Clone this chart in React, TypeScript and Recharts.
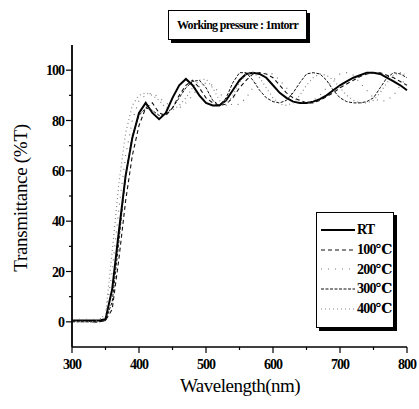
import React from 'react';
import { LineChart, Line, XAxis, YAxis, Legend } from 'recharts';

const wavelengths = [
  300, 310, 320, 330, 340, 350, 360, 370, 380, 390, 400, 410, 420, 430, 440, 450, 460, 470, 480, 490, 500,
  510, 520, 530, 540, 550, 560, 570, 580, 590, 600, 610, 620, 630, 640, 650, 660, 670, 680, 690, 700,
  710, 720, 730, 740, 750, 760, 770, 780, 790, 800,
];

const rt = [
  0.5, 0.5, 0.5, 0.5, 0.5, 1, 13, 36, 58, 73, 83, 87, 83, 80.5, 83, 89, 94, 96.5, 94, 90, 87,
  86, 86, 88, 92, 96, 98.5, 99, 98.5, 97, 94, 91, 89, 87.5, 87, 87, 87.5, 88.5, 90, 92, 94,
  95.5, 97, 98, 99, 99, 98.5, 97, 95.5, 94, 92,
];
const t100 = [
  0.5, 0.5, 0.5, 0, 0, 0.5, 5, 25, 48, 66, 78, 85, 87, 83, 82, 85, 90, 94, 96, 93, 89,
  87, 86, 86.5, 89, 93, 96, 98.5, 99, 98.5, 97, 94, 91, 89, 88, 87, 87, 88, 89.5, 91, 93,
  94.5, 96, 97.5, 98.5, 99, 99, 98, 97, 95.5, 94,
];
const t200 = [
  1, 1, 1, 1, 1, 2, 20, 45, 66, 80, 88, 90, 91, 89, 87, 85.5, 85, 87, 90, 93.5, 95,
  94, 91, 88, 86, 86.5, 89, 93, 97, 99, 98.5, 96, 93, 90, 87.5, 87, 88, 90, 93, 96, 98.5,
  99, 98, 95, 92, 89, 87.5, 88, 90, 94, 97,
];
const t300 = [
  0, 0, 0, 0, 0, 0.5, 8, 32, 58, 74, 82, 85, 84, 82, 82.5, 85, 89, 93, 95.5, 96, 93,
  88, 86, 89, 95, 99, 99, 96, 92, 89, 87.5, 87, 88, 91, 95, 98.5, 99, 98.5, 96, 92, 89,
  87.5, 87, 87, 87.5, 89, 93, 97, 99, 98.5, 97,
];
const t400 = [
  0.5, 0, 0, 0, 0.5, 3, 28, 55, 75, 86, 90, 91, 90, 88, 85, 84, 86, 89, 93, 96, 96.5,
  93, 88, 86, 90, 95, 98.5, 99, 97, 93, 89, 86.5, 86, 87, 90, 94, 97, 98.5, 98, 96, 93,
  90, 88, 87, 87, 88, 91, 95, 98, 99, 98,
];

const seriesNames = ['RT', '100\u2103', '200\u2103', '300\u2103', '400\u2103'];
const seriesValues = [rt, t100, t200, t300, t400];

const xTicks = [300, 350, 400, 450, 500, 550, 600, 650, 700, 750, 800];
const yTicks = [0, 10, 20, 30, 40, 50, 60, 70, 80, 90, 100];

const styles = [
  { stroke: '#000', width: 2, dash: undefined },
  { stroke: '#111', width: 1.1, dash: '4 3' },
  { stroke: '#777', width: 1.2, dash: '1 6' },
  { stroke: '#111', width: 1, dash: '3 1.5' },
  { stroke: '#888', width: 1.2, dash: '1 3' },
];

const data = wavelengths.map((w, i) => {
  const row: Record<string, number> = { w };
  seriesNames.forEach((n, k) => (row[n] = seriesValues[k][i]));
  return row;
});

const font = '"Liberation Serif", "DejaVu Serif", serif';

const XTick = (props: any) => {
  const { x, y, payload } = props;
  const major = payload.value % 100 === 0;
  return (
    <g>
      <line x1={x} x2={x} y1={y} y2={y + (major ? 6 : 3)} stroke="#000" strokeWidth={1.2} />
      {major && (
        <text x={x} y={y + 22} textAnchor="middle" fontFamily={font} fontSize={14} fontWeight="bold" letterSpacing={-1} fill="#000">
          {payload.value}
        </text>
      )}
    </g>
  );
};

const YTick = (props: any) => {
  const { x, y, payload } = props;
  const major = payload.value % 20 === 0;
  return (
    <g>
      <line x1={x} x2={x - (major ? 6 : 3)} y1={y} y2={y} stroke="#000" strokeWidth={1.2} />
      {major && (
        <text x={x - 8} y={y + 5} textAnchor="end" fontFamily={font} fontSize={14} fontWeight="bold" letterSpacing={-1} fill="#000">
          {payload.value}
        </text>
      )}
    </g>
  );
};

const LegendBox = () => (
  <div
    style={{
      width: 78,
      height: 116,
      border: '1px solid #000',
      boxShadow: '3px 3px 0 #000',
      background: '#fff',
      fontFamily: font,
      fontSize: 14,
      paddingTop: 7,
      boxSizing: 'border-box',
      color: '#000',
    }}
  >
    {seriesNames.map((n, k) => (
      <div key={n} style={{ display: 'flex', alignItems: 'center', height: 19.7 }}>
        <svg width={36} height={10} style={{ marginLeft: 4 }}>
          <line x1={0} x2={34} y1={5} y2={5} stroke={styles[k].stroke} strokeWidth={styles[k].width} strokeDasharray={styles[k].dash} />
        </svg>
        <span style={{ letterSpacing: -0.8, fontWeight: 'bold' }}>{n}</span>
      </div>
    ))}
  </div>
);

export default function App() {
  return (
    <div style={{ position: 'absolute', left: 0, top: 0, width: 419, height: 409, background: '#fff' }}>
      <div
        style={{
          position: 'absolute',
          left: 168,
          top: 10,
          width: 139,
          height: 30,
          border: '1px solid #000',
          boxShadow: '3px 3px 0 #000',
          boxSizing: 'border-box',
          background: '#fff',
          color: '#000',
          fontFamily: font,
          fontSize: 12,
          fontWeight: 'bold',
          letterSpacing: -0.7,
          lineHeight: '28px',
          textAlign: 'center',
          zIndex: 2,
        }}
      >
        Working pressure : 1mtorr
      </div>
      <LineChart width={419} height={409} data={data} margin={{ top: 45, right: 12, left: 22, bottom: 32 }}>
        <XAxis
          dataKey="w"
          type="number"
          domain={[300, 800]}
          ticks={xTicks}
          tickSize={0}
          tickMargin={0}
          tickLine={false}
          tick={<XTick />}
          axisLine={{ stroke: '#000', strokeWidth: 1.5 }}
          height={30}
          interval={0}
          label={{
            content: () => (
              <text x={240} y={392} textAnchor="middle" fontFamily={font} fontSize={19} letterSpacing={-0.5} fill="#000" style={{ fill: '#000' }}>
                Wavelength(nm)
              </text>
            ),
          }}
        />
        <XAxis
          xAxisId="t"
          orientation="top"
          dataKey="w"
          type="number"
          domain={[300, 800]}
          tick={false}
          tickLine={false}
          height={0}
          axisLine={{ stroke: '#000', strokeWidth: 1.2 }}
        />
        <YAxis
          type="number"
          domain={[-10, 110]}
          ticks={yTicks}
          tickSize={0}
          tickMargin={0}
          tickLine={false}
          tick={<YTick />}
          width={50}
          interval={0}
          axisLine={{ stroke: '#000', strokeWidth: 1.8 }}
          label={{
            content: () => (
              <text x={27} y={198} transform="rotate(-90 27 198)" textAnchor="middle" fontFamily={font} fontSize={19} letterSpacing={-0.3} fill="#000" style={{ fill: '#000' }}>
                Transmittance (%T)
              </text>
            ),
          }}
        />
        <YAxis
          yAxisId="r"
          orientation="right"
          type="number"
          domain={[-10, 110]}
          tick={false}
          tickLine={false}
          width={0}
          axisLine={{ stroke: '#000', strokeWidth: 2.2 }}
        />
        <Legend
          layout="vertical"
          align="center"
          verticalAlign="middle"
          wrapperStyle={{ left: 316, top: 212, width: 80 }}
          content={<LegendBox />}
        />
        {seriesNames.map((n, k) => (
          <Line
            key={n}
            dataKey={n}
            name={n}
            type="linear"
            stroke={styles[k].stroke}
            strokeWidth={styles[k].width}
            strokeDasharray={styles[k].dash}
            dot={false}
            isAnimationActive={false}
          />
        ))}
      </LineChart>
    </div>
  );
}
